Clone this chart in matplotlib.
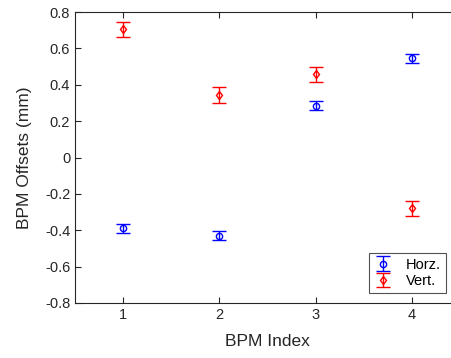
import numpy as np
import matplotlib
matplotlib.use('Agg')
import matplotlib.pyplot as plt

plt.rcParams['font.family'] = ['Liberation Sans', 'DejaVu Sans']

bpm_index = [1, 2, 3, 4]
horz_offsets = [-0.39, -0.43, 0.285, 0.545]
horz_errors = [0.025, 0.025, 0.025, 0.025]
vert_offsets = [0.705, 0.342, 0.457, -0.28]
vert_errors = [0.04, 0.043, 0.043, 0.04]

fig = plt.figure(figsize=(4.52, 3.58), dpi=100)
# axes runs past the right edge of the figure, like the reference crop
ax = fig.add_axes([75 / 452, (358 - 303) / 358, 385 / 452, 291 / 358])

ax.errorbar(bpm_index, horz_offsets, yerr=horz_errors, fmt='o', color='#0000ff',
            mfc='none', ms=4.5, mew=1.0, capsize=5, elinewidth=1.0, capthick=1.0,
            label='Horz.')
ax.errorbar(bpm_index, vert_offsets, yerr=vert_errors, fmt='d', color='#ff0000',
            mfc='none', ms=4.5, mew=1.0, capsize=5, elinewidth=1.0, capthick=1.0,
            label='Vert.')

ax.set_xlim(0.5, 4.5)
ax.set_ylim(-0.8, 0.8)
ax.set_xticks(bpm_index)
ax.set_yticks(np.round(np.arange(-0.8, 0.81, 0.2), 1))
ax.set_yticklabels(['-0.8', '-0.6', '-0.4', '-0.2', '0', '0.2', '0.4', '0.6', '0.8'])

for s in ax.spines.values():
    s.set_color('#262626')
    s.set_linewidth(0.8)
ax.tick_params(direction='in', top=True, right=True, length=4, width=0.8,
               colors='#262626', labelsize=10.5, labelcolor='#262626')

ax.set_xlabel('BPM Index', fontsize=12.5, color='#262626', labelpad=9)
ax.set_ylabel('BPM Offsets (mm)', fontsize=12.5, color='#262626', labelpad=9)

leg = ax.legend(loc='lower right', bbox_to_anchor=(0.964, 0.034), borderaxespad=0,
                fontsize=10.5, frameon=True, fancybox=False, edgecolor='#262626',
                handlelength=1.2, borderpad=0.35, labelspacing=0.15,
                handletextpad=1.0)
leg.get_frame().set_linewidth(0.8)

fig.savefig('out.png', dpi=100)
